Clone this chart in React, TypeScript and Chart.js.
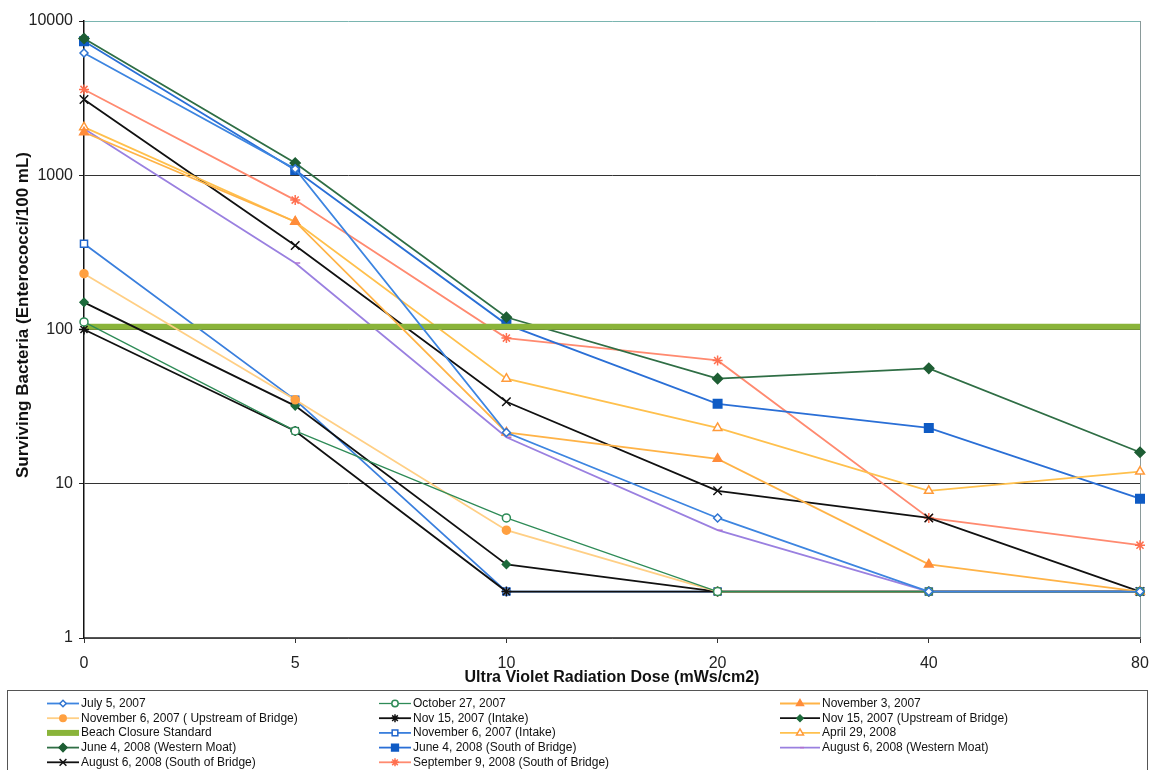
import React, { useEffect, useRef } from 'react';
import { Chart, registerables } from 'chart.js';
import { drawPoint } from 'chart.js/helpers';

Chart.register(...registerables);

const doses = ['0', '5', '10', '20', '40', '80'];
const yTickValues = [1, 10, 100, 1000, 10000];
const yTitle = 'Surviving Bacteria (Enterococci/100 mL)';
const xTitle = 'Ultra Violet Radiation Dose (mWs/cm2)';

const july5_2007 = [6200, 1100, 21.5, 6, 2, 2];
const oct27_2007 = [112, 22, 6, 2, 2, 2];
const nov3_2007 = [1900, 500, 21.5, 14.5, 3, 2];
const nov6_2007_upstream = [230, 35, 5, 2, 2, 2];
const nov15_2007_intake = [100, 22, 2, 2, 2, 2];
const nov15_2007_upstream = [150, 32, 3, 2, 2, 2];
const beachStandard = [104, 104, 104, 104, 104, 104];
const nov6_2007_intake = [360, 35, 2, 2, 2, 2];
const apr29_2008 = [2050, 500, 48, 23, 9, 12];
const jun4_2008_western = [7700, 1200, 120, 48, 56, 16];
const jun4_2008_south = [7400, 1080, 108, 33, 23, 8];
const aug6_2008_western = [2000, 270, 20, 5, 2, 2];
const aug6_2008_south = [3100, 350, 34, 9, 6, 2];
const sep9_2008_south = [3600, 690, 88, 63, 6, 4];

const FONT = '"Liberation Sans", Arial, sans-serif';

function ds(label: string, data: number[], line: string, pointStyle: any, pointColor: string, fill: string, radius: number, width = 1.8) {
  return {
    label,
    data,
    borderColor: line,
    backgroundColor: fill,
    borderWidth: width,
    pointStyle,
    pointRadius: radius,
    pointBorderColor: pointColor,
    pointBackgroundColor: fill,
    pointBorderWidth: 1.5,
    tension: 0,
    fill: false,
  };
}

const legendLineStart = [47, 379, 780];
const legendTextX = [81, 413, 822];

const yTitlePlugin = {
  id: 'yTitle',
  afterDraw(chart: any) {
    const ctx = chart.ctx as CanvasRenderingContext2D;
    ctx.save();
    ctx.translate(23.5, 315);
    ctx.rotate(-Math.PI / 2);
    ctx.font = `bold 17px ${FONT}`;
    ctx.fillStyle = '#111';
    ctx.textAlign = 'center';
    ctx.textBaseline = 'middle';
    ctx.fillText(yTitle, 0, 0);
    ctx.restore();
  },
};

const gridLegend = {
  id: 'gridLegend',
  afterDraw(chart: any) {
    const ctx = chart.ctx as CanvasRenderingContext2D;
    ctx.save();
    ctx.strokeStyle = '#555';
    ctx.lineWidth = 1;
    ctx.strokeRect(7.5, 690.5, 1140, 100);
    ctx.font = `12px ${FONT}`;
    ctx.textBaseline = 'middle';
    ctx.textAlign = 'left';
    chart.data.datasets.forEach((d: any, i: number) => {
      const row = Math.floor(i / 3);
      const col = i % 3;
      const x0 = legendLineStart[col];
      const x1 = legendTextX[col] - 2;
      const y = 703.5 + row * 14.7;
      ctx.strokeStyle = d.borderColor;
      ctx.lineWidth = d.borderWidth;
      ctx.beginPath();
      ctx.moveTo(x0, y);
      ctx.lineTo(x1, y);
      ctx.stroke();
      if (d.pointRadius > 0) {
        ctx.strokeStyle = d.pointBorderColor;
        ctx.fillStyle = d.pointBackgroundColor;
        ctx.lineWidth = d.pointBorderWidth;
        drawPoint(ctx, { pointStyle: d.pointStyle, rotation: 0, radius: Math.max(3, d.pointRadius * 0.8), borderWidth: d.pointBorderWidth } as any, (x0 + x1) / 2, y);
      }
      ctx.fillStyle = '#111';
      ctx.fillText(d.label, legendTextX[col], y);
    });
    ctx.restore();
  },
};

export default function App() {
  const ref = useRef<HTMLCanvasElement | null>(null);
  useEffect(() => {
    document.body.style.margin = '0';
    if (!ref.current) return;
    const chart = new Chart(ref.current, {
      type: 'line',
      data: {
        labels: doses,
        datasets: [
          ds('July 5, 2007', july5_2007, '#3D85E0', 'rectRot', '#2F74D0', '#ffffff', 4),
          ds('October 27, 2007', oct27_2007, '#2E8B57', 'circle', '#2E8B57', '#ffffff', 4, 1.3),
          ds('November 3, 2007', nov3_2007, '#FFB347', 'triangle', '#FF8C3A', '#FF8C3A', 5),
          ds('November 6, 2007 ( Upstream of Bridge)', nov6_2007_upstream, '#FFCF85', 'circle', '#FFA040', '#FFA040', 4),
          ds('Nov 15, 2007 (Intake)', nov15_2007_intake, '#111111', 'star', '#111111', '#111111', 5),
          ds('Nov 15, 2007 (Upstream of Bridge)', nov15_2007_upstream, '#111111', 'rectRot', '#1E6B3C', '#1E6B3C', 4),
          ds('Beach Closure Standard', beachStandard, '#8AB43A', 'circle', '#8AB43A', '#8AB43A', 0, 6),
          ds('November 6, 2007 (Intake)', nov6_2007_intake, '#3A7FDD', 'rect', '#2266CC', '#ffffff', 5),
          ds('April 29, 2008', apr29_2008, '#FFC04D', 'triangle', '#FF9A3A', '#ffffff', 5),
          ds('June 4, 2008 (Western Moat)', jun4_2008_western, '#2F6E45', 'rectRot', '#1E5E34', '#1E5E34', 5),
          ds('June 4, 2008 (South of Bridge)', jun4_2008_south, '#2A6FD6', 'rect', '#0F5BC4', '#0F5BC4', 6),
          ds('August 6, 2008 (Western Moat)', aug6_2008_western, '#9A80E0', 'dash', '#B070D0', '#B070D0', 5),
          ds('August 6, 2008 (South of Bridge)', aug6_2008_south, '#111111', 'crossRot', '#111111', '#111111', 6),
          ds('September 9, 2008 (South of Bridge)', sep9_2008_south, '#FF8A70', 'star', '#FF7050', '#FF7050', 5),
        ],
      },
      options: {
        responsive: false,
        animation: false,
        layout: { padding: { left: 0, right: 13, top: 21, bottom: 81 } },
        plugins: {
          legend: { display: false },
          tooltip: { enabled: false },
          title: { display: false },
        },
        scales: {
          x: {
            type: 'category',
            offset: false,
            afterFit: (s: any) => { s.height = 51; s.paddingRight = 13; s.paddingLeft = 0; },
            border: { display: true, color: '#555', width: 1.5 },
            grid: {
              drawOnChartArea: true,
              drawTicks: true,
              tickLength: 5,
              tickColor: '#333',
              color: (c: any) => (c.index === doses.length - 1 ? '#8A9A9A' : 'rgba(0,0,0,0)'),
              lineWidth: 1,
            },
            ticks: { color: '#222', font: { family: FONT, size: 16 }, padding: 11, maxRotation: 0 },
            title: {
              display: true,
              text: xTitle,
              color: '#111',
              font: { family: FONT, size: 16, weight: 'bold' },
              padding: { top: 0, bottom: 2 },
            },
          },
          y: {
            type: 'logarithmic',
            min: 1,
            max: 10000,
            afterFit: (s: any) => { s.width = 84; },
            afterBuildTicks: (s: any) => { s.ticks = yTickValues.map((v) => ({ value: v })); },
            border: { display: true, color: '#111', width: 1.5 },
            grid: {
              drawTicks: true,
              tickLength: 5,
              tickColor: '#222',
              color: (c: any) => (c.tick && c.tick.value === 10000 ? '#7AB5B0' : '#333'),
              lineWidth: 1,
            },
            ticks: {
              color: '#222',
              font: { family: FONT, size: 16 },
              padding: 6,
              callback: (v: any) => String(v),
            },
            title: { display: false, text: yTitle },
          },
        },
      },
      plugins: [gridLegend, yTitlePlugin],
    } as any);
    return () => chart.destroy();
  }, []);
  return (
    <div style={{ width: 1153, height: 770, background: '#fff' }}>
      <canvas ref={ref} width={1153} height={770} />
    </div>
  );
}
